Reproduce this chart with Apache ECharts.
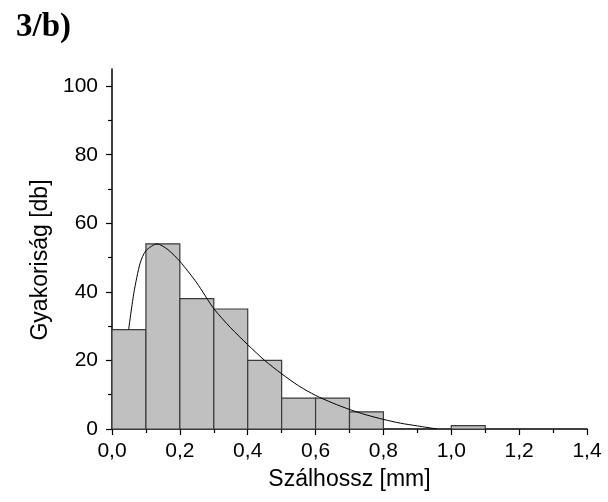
<!DOCTYPE html>
<html style="height: 100%">
<head>
    <meta charset="utf-8">
</head>
<body style="height: 100%; margin: 0; background: #fff">
    <div id="container" style="width: 608px; height: 502px"></div>
    <script type="text/javascript" src="https://cdn.jsdelivr.net/npm/echarts@6/dist/echarts.min.js"></script>
    <script type="text/javascript">
        // histogram bins: start of bin (mm), width 0.1
        var binStarts = [0.0, 0.1, 0.2, 0.3, 0.4, 0.5, 0.6, 0.7, 1.0];
        var binCounts = [29, 54, 38, 35, 20, 9, 9, 5, 1];
        var binWidth = 0.1;

        // fitted curve
        var fitX = [0.049, 0.065, 0.083, 0.1, 0.133, 0.165, 0.2, 0.25, 0.3, 0.35,
                    0.4, 0.45, 0.5, 0.55, 0.6, 0.65, 0.7, 0.75, 0.8, 0.85, 0.9, 0.958];
        var fitY = [29, 40, 48.4, 52, 54, 52.3, 48.9, 42.6, 35.1, 29.5,
                    24.6, 20, 16.1, 12.6, 9.8, 7.6, 5.7, 4.1, 2.8, 1.7, 0.9, 0];

        var yTicks = [0, 20, 40, 60, 80, 100];
        var yMinorTicks = [10, 30, 50, 70, 90];

        var labelFont = 'Liberation Sans, Arial, sans-serif';

        var bars = binStarts.map(function (s, i) { return [s, s + binWidth, binCounts[i]]; });
        var fit = fitX.map(function (x, i) { return [x, fitY[i]]; });

        var myChart = echarts.init(document.getElementById('container'));
        var option = {
            animation: false,
            title: {
                text: '3/b)',
                left: 11,
                top: 6,
                textStyle: {
                    fontFamily: 'Liberation Serif, Times New Roman, serif',
                    fontWeight: 'bold',
                    fontSize: 33,
                    color: '#000'
                }
            },
            grid: {
                left: 112,
                right: 21,
                top: 69,
                bottom: 73,
                outerBoundsMode: 'none'
            },
            xAxis: {
                type: 'value',
                min: 0,
                max: 1.4,
                interval: 0.2,
                name: 'Szálhossz [mm]',
                nameLocation: 'middle',
                nameGap: 39,
                nameTextStyle: { fontFamily: labelFont, fontSize: 23, color: '#000' },
                axisLine: { show: true, onZero: false, lineStyle: { color: '#000', width: 1.5 } },
                axisTick: { show: true, inside: false, length: 6, lineStyle: { color: '#000', width: 1.2 } },
                minorTick: { show: true, splitNumber: 2, length: 4, lineStyle: { color: '#000', width: 1.2 } },
                splitLine: { show: false },
                axisLabel: {
                    margin: 12,
                    fontFamily: labelFont,
                    fontSize: 21,
                    color: '#000',
                    formatter: function (v) { return v.toFixed(1).replace('.', ','); }
                }
            },
            yAxis: [
                {
                    type: 'value',
                    min: 0,
                    max: 105,
                    name: 'Gyakoriság [db]',
                    nameLocation: 'middle',
                    nameGap: 59,
                    nameTextStyle: { fontFamily: labelFont, fontSize: 23, color: '#000', padding: [0, 22, 0, 0] },
                    axisLine: { show: true, onZero: false, lineStyle: { color: '#000', width: 1.5 } },
                    axisTick: { show: true, inside: false, length: 6, customValues: yTicks, lineStyle: { color: '#000', width: 1.2 } },
                    splitLine: { show: false },
                    axisLabel: {
                        margin: 14,
                        customValues: yTicks,
                        fontFamily: labelFont,
                        fontSize: 21,
                        color: '#000'
                    }
                },
                {
                    // only carries the minor ticks
                    type: 'value',
                    position: 'left',
                    min: 0,
                    max: 105,
                    axisLine: { show: false },
                    axisTick: { show: true, inside: false, length: 4, customValues: yMinorTicks, lineStyle: { color: '#000', width: 1.2 } },
                    axisLabel: { show: false },
                    splitLine: { show: false }
                }
            ],
            series: [
                {
                    type: 'custom',
                    renderItem: function (params, api) {
                        var p0 = api.coord([api.value(0), api.value(2)]);
                        var p1 = api.coord([api.value(1), 0]);
                        return {
                            type: 'rect',
                            shape: { x: p0[0], y: p0[1], width: p1[0] - p0[0], height: p1[1] - p0[1] },
                            style: { fill: '#c0c0c0', stroke: '#3a3a3a', lineWidth: 1.2 }
                        };
                    },
                    encode: { x: [0, 1], y: 2 },
                    data: bars,
                    z: 1
                },
                {
                    type: 'line',
                    data: fit,
                    smooth: 0.25,
                    showSymbol: false,
                    lineStyle: { color: '#000', width: 1 },
                    z: 3
                }
            ]
        };
        myChart.setOption(option);
    </script>
</body>
</html>
